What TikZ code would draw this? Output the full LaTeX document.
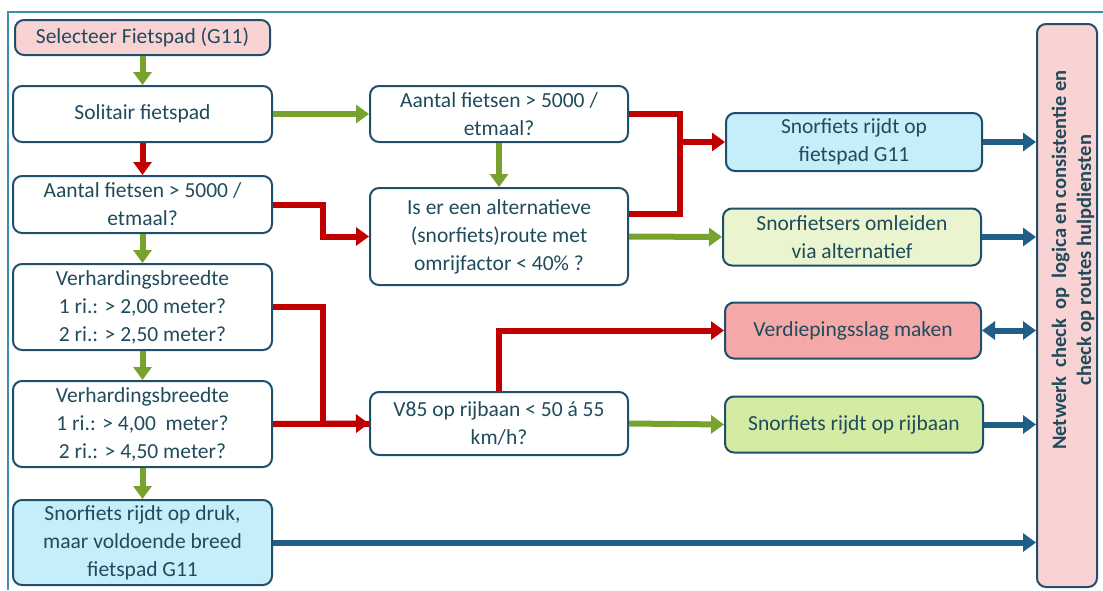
\documentclass[tikz,border=0pt]{standalone}
\usepackage{fontspec}
\setmainfont{Carlito}
\usetikzlibrary{arrows.meta}
\definecolor{boxline}{HTML}{1F4F6B}
\definecolor{txt}{HTML}{1F4B5C}
\definecolor{framecol}{HTML}{3F8EB8}
\definecolor{pinkfill}{HTML}{F9D3D3}
\definecolor{bluefill}{HTML}{C5EDFA}
\definecolor{lgreenfill}{HTML}{EAF4CF}
\definecolor{salmonfill}{HTML}{F4A8A8}
\definecolor{greenfill}{HTML}{D4EBA4}
\definecolor{grn}{HTML}{77A22D}
\definecolor{rd}{HTML}{C00000}
\definecolor{blu}{HTML}{1F5F86}
\tikzset{
    box/.style={draw=boxline, line width=2pt, rounded corners=9pt, fill=white,
        text=txt, align=center, inner sep=0pt,
        font=\fontsize{21.5}{28}\selectfont},
    tip/.style={-{Triangle[length=13pt,width=18pt]}},
    yes/.style={line width=6pt, draw=grn, tip},
    no/.style={line width=6pt, draw=rd, tip},
    nohead/.style={line width=6pt, draw=rd},
    toblue/.style={line width=6pt, draw=blu, tip},
}
\begin{document}
\begin{tikzpicture}[x=1pt, y=-1pt]
    \useasboundingbox (0,0) rectangle (1103,590);
    \draw[framecol, line width=1.5pt] (8,590) -- (8,12) -- (1103,12);
    % left column
    \node[box, fill=pinkfill, minimum width=255pt, minimum height=35pt] (sel) at (142.5,37.5) {Selecteer Fietspad (G11)};
    \node[box, minimum width=259pt, minimum height=56pt] (sol) at (142.5,114) {Solitair fietspad};
    \node[box, minimum width=259pt, minimum height=57pt] (aant1) at (142.5,204.5) {Aantal fietsen > 5000 /\\etmaal?};
    \node[box, minimum width=259pt, minimum height=86pt] (verh1) at (142.5,307) {Verhardingsbreedte\\1 ri.: > 2,00 meter?\\2 ri.: > 2,50 meter?};
    \node[box, minimum width=259pt, minimum height=86pt] (verh2) at (142.5,424) {Verhardingsbreedte\\1 ri.: > 4,00~ meter?\\2 ri.: > 4,50 meter?};
    \node[box, fill=bluefill, minimum width=259pt, minimum height=85pt] (druk) at (142.5,542.5) {Snorfiets rijdt op druk,\\maar voldoende breed\\fietspad G11};
    % middle column
    \node[box, minimum width=258pt, minimum height=56pt] (aant2) at (499,114) {Aantal fietsen > 5000 /\\etmaal?};
    \node[box, minimum width=258pt, minimum height=97pt] (alt) at (499,236.5) {Is er een alternatieve\\(snorfiets)route met\\omrijfactor < 40\% ?};
    \node[box, minimum width=258pt, minimum height=63pt] (v85) at (499,423.5) {V85 op rijbaan < 50 á 55\\km/h?};
    % right column
    \node[box, fill=bluefill, minimum width=256pt, minimum height=58pt] (fp) at (854,142) {Snorfiets rijdt op\\fietspad G11};
    \node[box, fill=lgreenfill, minimum width=258pt, minimum height=57pt] (oml) at (852,237) {Snorfietsers omleiden\\via alternatief};
    \node[box, fill=salmonfill, minimum width=256pt, minimum height=56pt] (verd) at (853,330.5) {Verdiepingsslag maken};
    \node[box, fill=greenfill, minimum width=258pt, minimum height=56pt] (rijb) at (854,424.5) {Snorfiets rijdt op rijbaan};
    \node[box, fill=pinkfill, minimum width=60pt, minimum height=563pt] (net) at (1067,305.5) {};
    \node[rotate=90, text=txt, align=center, font=\bfseries\fontsize{20.5}{25}\selectfont] (netlabel) at (1073,260) {Netwerk~ check~ op~ logica en consistentie en\\check op routes hulpdiensten};
    % connectors
    \draw[yes] (sel) -- (sol);
    \draw[no] (sol) -- (aant1);
    \draw[yes] (aant1) -- (verh1);
    \draw[yes] (verh1) -- (verh2);
    \draw[yes] (verh2) -- (druk);
    \draw[yes] (sol) -- (aant2);
    \draw[yes] (aant2) -- (alt);
    \draw[no] (aant1.east) -- ++(50,0) |- (alt.west);
    \draw[nohead] (verh1.east) -- ++(50,0) |- (v85.west);
    \draw[no] (verh2.east) -- (v85.west);
    \draw[nohead] ([yshift=23pt]alt.east) -| (680,142);
    \draw[no] (aant2.east) -| (680,142) -- (fp.west);
    \draw[yes] (alt.east) -- (oml.west);
    \draw[no] (v85.north) |- (verd.west);
    \draw[yes] (v85.east) -- (rijb.west);
    \foreach \n in {fp,oml,rijb,druk}
        \draw[toblue] (\n.east) -- (\n.east -| net.west);
    \draw[toblue, {Triangle[length=13pt,width=18pt]}-{Triangle[length=13pt,width=18pt]}] (verd.east) -- (verd.east -| net.west);
\end{tikzpicture}
\end{document}
